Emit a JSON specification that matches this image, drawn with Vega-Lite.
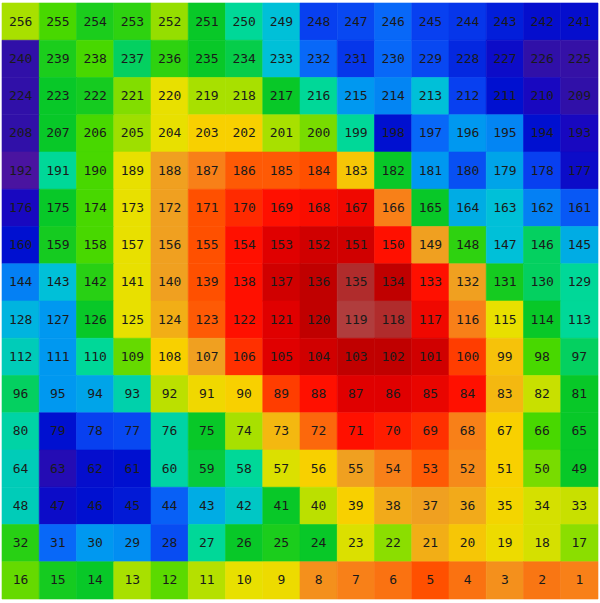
{
"$schema": "https://vega.github.io/schema/vega-lite/v6.json",
"width": 596, "height": 596,
"autosize": {"type": "none"},
"padding": {"left": 2, "top": 3, "right": 2, "bottom": 4},
"background": "white",
"data": {"values": [
{"n":256,"r":0,"c":0,"v":11},{"n":255,"r":0,"c":1,"v":10},{"n":254,"r":0,"c":2,"v":9.3},{"n":253,"r":0,"c":3,"v":9.6},{"n":252,"r":0,"c":4,"v":10.8},{"n":251,"r":0,"c":5,"v":9},{"n":250,"r":0,"c":6,"v":8},{"n":249,"r":0,"c":7,"v":7},{"n":248,"r":0,"c":8,"v":4},{"n":247,"r":0,"c":9,"v":4.2},{"n":246,"r":0,"c":10,"v":5},{"n":245,"r":0,"c":11,"v":4},{"n":244,"r":0,"c":12,"v":3.8},{"n":243,"r":0,"c":13,"v":3.3},{"n":242,"r":0,"c":14,"v":2.8},{"n":241,"r":0,"c":15,"v":2.8},
{"n":240,"r":1,"c":0,"v":1},{"n":239,"r":1,"c":1,"v":9.3},{"n":238,"r":1,"c":2,"v":10},{"n":237,"r":1,"c":3,"v":8.5},{"n":236,"r":1,"c":4,"v":9.6},{"n":235,"r":1,"c":5,"v":9},{"n":234,"r":1,"c":6,"v":8.7},{"n":233,"r":1,"c":7,"v":7},{"n":232,"r":1,"c":8,"v":5},{"n":231,"r":1,"c":9,"v":3.8},{"n":230,"r":1,"c":10,"v":5},{"n":229,"r":1,"c":11,"v":4.2},{"n":228,"r":1,"c":12,"v":3.5},{"n":227,"r":1,"c":13,"v":2.5},{"n":226,"r":1,"c":14,"v":1},{"n":225,"r":1,"c":15,"v":0.8},
{"n":224,"r":2,"c":0,"v":1},{"n":223,"r":2,"c":1,"v":9},{"n":222,"r":2,"c":2,"v":9.2},{"n":221,"r":2,"c":3,"v":10.6},{"n":220,"r":2,"c":4,"v":12},{"n":219,"r":2,"c":5,"v":11},{"n":218,"r":2,"c":6,"v":11},{"n":217,"r":2,"c":7,"v":9},{"n":216,"r":2,"c":8,"v":8},{"n":215,"r":2,"c":9,"v":6},{"n":214,"r":2,"c":10,"v":5.6},{"n":213,"r":2,"c":11,"v":7},{"n":212,"r":2,"c":12,"v":4},{"n":211,"r":2,"c":13,"v":3},{"n":210,"r":2,"c":14,"v":2},{"n":209,"r":2,"c":15,"v":1},
{"n":208,"r":3,"c":0,"v":1},{"n":207,"r":3,"c":1,"v":9},{"n":206,"r":3,"c":2,"v":10},{"n":205,"r":3,"c":3,"v":10.9},{"n":204,"r":3,"c":4,"v":12},{"n":203,"r":3,"c":5,"v":13},{"n":202,"r":3,"c":6,"v":13},{"n":201,"r":3,"c":7,"v":11},{"n":200,"r":3,"c":8,"v":10.5},{"n":199,"r":3,"c":9,"v":8},{"n":198,"r":3,"c":10,"v":3},{"n":197,"r":3,"c":11,"v":5},{"n":196,"r":3,"c":12,"v":6},{"n":195,"r":3,"c":13,"v":5.6},{"n":194,"r":3,"c":14,"v":3},{"n":193,"r":3,"c":15,"v":2},
{"n":192,"r":4,"c":0,"v":0},{"n":191,"r":4,"c":1,"v":8},{"n":190,"r":4,"c":2,"v":10},{"n":189,"r":4,"c":3,"v":12},{"n":188,"r":4,"c":4,"v":14},{"n":187,"r":4,"c":5,"v":15},{"n":186,"r":4,"c":6,"v":15.8},{"n":185,"r":4,"c":7,"v":15.8},{"n":184,"r":4,"c":8,"v":16},{"n":183,"r":4,"c":9,"v":13.2},{"n":182,"r":4,"c":10,"v":9},{"n":181,"r":4,"c":11,"v":6},{"n":180,"r":4,"c":12,"v":4.4},{"n":179,"r":4,"c":13,"v":6.3},{"n":178,"r":4,"c":14,"v":4},{"n":177,"r":4,"c":15,"v":2.5},
{"n":176,"r":5,"c":0,"v":2},{"n":175,"r":5,"c":1,"v":9},{"n":174,"r":5,"c":2,"v":10},{"n":173,"r":5,"c":3,"v":12},{"n":172,"r":5,"c":4,"v":14},{"n":171,"r":5,"c":5,"v":16},{"n":170,"r":5,"c":6,"v":16.6},{"n":169,"r":5,"c":7,"v":17},{"n":168,"r":5,"c":8,"v":17.2},{"n":167,"r":5,"c":9,"v":17.5},{"n":166,"r":5,"c":10,"v":15},{"n":165,"r":5,"c":11,"v":9},{"n":164,"r":5,"c":12,"v":6.5},{"n":163,"r":5,"c":13,"v":7},{"n":162,"r":5,"c":14,"v":5.5},{"n":161,"r":5,"c":15,"v":4.6},
{"n":160,"r":6,"c":0,"v":3},{"n":159,"r":6,"c":1,"v":9.2},{"n":158,"r":6,"c":2,"v":10},{"n":157,"r":6,"c":3,"v":12},{"n":156,"r":6,"c":4,"v":14},{"n":155,"r":6,"c":5,"v":16},{"n":154,"r":6,"c":6,"v":17},{"n":153,"r":6,"c":7,"v":18},{"n":152,"r":6,"c":8,"v":18.5},{"n":151,"r":6,"c":9,"v":18.5},{"n":150,"r":6,"c":10,"v":17},{"n":149,"r":6,"c":11,"v":14},{"n":148,"r":6,"c":12,"v":9.6},{"n":147,"r":6,"c":13,"v":7},{"n":146,"r":6,"c":14,"v":8.5},{"n":145,"r":6,"c":15,"v":6.5},
{"n":144,"r":7,"c":0,"v":5.5},{"n":143,"r":7,"c":1,"v":7},{"n":142,"r":7,"c":2,"v":9.5},{"n":141,"r":7,"c":3,"v":12},{"n":140,"r":7,"c":4,"v":14},{"n":139,"r":7,"c":5,"v":16},{"n":138,"r":7,"c":6,"v":17},{"n":137,"r":7,"c":7,"v":18.5},{"n":136,"r":7,"c":8,"v":19},{"n":135,"r":7,"c":9,"v":20},{"n":134,"r":7,"c":10,"v":19},{"n":133,"r":7,"c":11,"v":17},{"n":132,"r":7,"c":12,"v":14},{"n":131,"r":7,"c":13,"v":9.2},{"n":130,"r":7,"c":14,"v":8.5},{"n":129,"r":7,"c":15,"v":8},
{"n":128,"r":8,"c":0,"v":6.7},{"n":127,"r":8,"c":1,"v":6},{"n":126,"r":8,"c":2,"v":9},{"n":125,"r":8,"c":3,"v":12},{"n":124,"r":8,"c":4,"v":13.7},{"n":123,"r":8,"c":5,"v":15.8},{"n":122,"r":8,"c":6,"v":17},{"n":121,"r":8,"c":7,"v":18},{"n":120,"r":8,"c":8,"v":19},{"n":119,"r":8,"c":9,"v":20.6},{"n":118,"r":8,"c":10,"v":20},{"n":117,"r":8,"c":11,"v":17.5},{"n":116,"r":8,"c":12,"v":15},{"n":115,"r":8,"c":13,"v":12},{"n":114,"r":8,"c":14,"v":9},{"n":113,"r":8,"c":15,"v":8},
{"n":112,"r":9,"c":0,"v":7.5},{"n":111,"r":9,"c":1,"v":6},{"n":110,"r":9,"c":2,"v":8},{"n":109,"r":9,"c":3,"v":10.3},{"n":108,"r":9,"c":4,"v":13},{"n":107,"r":9,"c":5,"v":14},{"n":106,"r":9,"c":6,"v":16.5},{"n":105,"r":9,"c":7,"v":18},{"n":104,"r":9,"c":8,"v":18.5},{"n":103,"r":9,"c":9,"v":19},{"n":102,"r":9,"c":10,"v":19},{"n":101,"r":9,"c":11,"v":18.5},{"n":100,"r":9,"c":12,"v":16.3},{"n":99,"r":9,"c":13,"v":13.3},{"n":98,"r":9,"c":14,"v":10},{"n":97,"r":9,"c":15,"v":8.5},
{"n":96,"r":10,"c":0,"v":8.5},{"n":95,"r":10,"c":1,"v":6},{"n":94,"r":10,"c":2,"v":6.3},{"n":93,"r":10,"c":3,"v":7.7},{"n":92,"r":10,"c":4,"v":11.3},{"n":91,"r":10,"c":5,"v":12.5},{"n":90,"r":10,"c":6,"v":13},{"n":89,"r":10,"c":7,"v":16.3},{"n":88,"r":10,"c":8,"v":17},{"n":87,"r":10,"c":9,"v":18},{"n":86,"r":10,"c":10,"v":18},{"n":85,"r":10,"c":11,"v":17.7},{"n":84,"r":10,"c":12,"v":17},{"n":83,"r":10,"c":13,"v":13.5},{"n":82,"r":10,"c":14,"v":11.5},{"n":81,"r":10,"c":15,"v":9},
{"n":80,"r":11,"c":0,"v":7.8},{"n":79,"r":11,"c":1,"v":3},{"n":78,"r":11,"c":2,"v":4},{"n":77,"r":11,"c":3,"v":4.2},{"n":76,"r":11,"c":4,"v":7.8},{"n":75,"r":11,"c":5,"v":9},{"n":74,"r":11,"c":6,"v":11},{"n":73,"r":11,"c":7,"v":13.5},{"n":72,"r":11,"c":8,"v":15.5},{"n":71,"r":11,"c":9,"v":17},{"n":70,"r":11,"c":10,"v":16.8},{"n":69,"r":11,"c":11,"v":16.5},{"n":68,"r":11,"c":12,"v":15},{"n":67,"r":11,"c":13,"v":13},{"n":66,"r":11,"c":14,"v":10},{"n":65,"r":11,"c":15,"v":9},
{"n":64,"r":12,"c":0,"v":7.5},{"n":63,"r":12,"c":1,"v":1.5},{"n":62,"r":12,"c":2,"v":2.8},{"n":61,"r":12,"c":3,"v":3},{"n":60,"r":12,"c":4,"v":7.8},{"n":59,"r":12,"c":5,"v":8.8},{"n":58,"r":12,"c":6,"v":8},{"n":57,"r":12,"c":7,"v":11.8},{"n":56,"r":12,"c":8,"v":13},{"n":55,"r":12,"c":9,"v":14},{"n":54,"r":12,"c":10,"v":15},{"n":53,"r":12,"c":11,"v":15.8},{"n":52,"r":12,"c":12,"v":14.7},{"n":51,"r":12,"c":13,"v":13},{"n":50,"r":12,"c":14,"v":10.5},{"n":49,"r":12,"c":15,"v":9},
{"n":48,"r":13,"c":0,"v":7.5},{"n":47,"r":13,"c":1,"v":2.5},{"n":46,"r":13,"c":2,"v":3},{"n":45,"r":13,"c":3,"v":3.2},{"n":44,"r":13,"c":4,"v":4.8},{"n":43,"r":13,"c":5,"v":6.5},{"n":42,"r":13,"c":6,"v":7.3},{"n":41,"r":13,"c":7,"v":9},{"n":40,"r":13,"c":8,"v":11.3},{"n":39,"r":13,"c":9,"v":13},{"n":38,"r":13,"c":10,"v":13.8},{"n":37,"r":13,"c":11,"v":14},{"n":36,"r":13,"c":12,"v":13.8},{"n":35,"r":13,"c":13,"v":12.7},{"n":34,"r":13,"c":14,"v":11.7},{"n":33,"r":13,"c":15,"v":11.5},
{"n":32,"r":14,"c":0,"v":9.5},{"n":31,"r":14,"c":1,"v":5},{"n":30,"r":14,"c":2,"v":6},{"n":29,"r":14,"c":3,"v":5.8},{"n":28,"r":14,"c":4,"v":4.3},{"n":27,"r":14,"c":5,"v":8},{"n":26,"r":14,"c":6,"v":9},{"n":25,"r":14,"c":7,"v":9.3},{"n":24,"r":14,"c":8,"v":9},{"n":23,"r":14,"c":9,"v":11.8},{"n":22,"r":14,"c":10,"v":10.7},{"n":21,"r":14,"c":11,"v":13.7},{"n":20,"r":14,"c":12,"v":13.2},{"n":19,"r":14,"c":13,"v":12.3},{"n":18,"r":14,"c":14,"v":11.7},{"n":17,"r":14,"c":15,"v":10.7},
{"n":16,"r":15,"c":0,"v":10.3},{"n":15,"r":15,"c":1,"v":9.2},{"n":14,"r":15,"c":2,"v":9},{"n":13,"r":15,"c":3,"v":11},{"n":12,"r":15,"c":4,"v":10.2},{"n":11,"r":15,"c":5,"v":11.2},{"n":10,"r":15,"c":6,"v":12},{"n":9,"r":15,"c":7,"v":12.3},{"n":8,"r":15,"c":8,"v":14.5},{"n":7,"r":15,"c":9,"v":15},{"n":6,"r":15,"c":10,"v":15.3},{"n":5,"r":15,"c":11,"v":16},{"n":4,"r":15,"c":12,"v":15.3},{"n":3,"r":15,"c":13,"v":14.5},{"n":2,"r":15,"c":14,"v":15.2},{"n":1,"r":15,"c":15,"v":15}
]},
"encoding": {
  "x": {"field": "c", "type": "ordinal", "axis": null, "scale": {"paddingInner": 0, "paddingOuter": 0}},
  "y": {"field": "r", "type": "ordinal", "axis": null, "scale": {"paddingInner": 0, "paddingOuter": 0}}
},
"layer": [
  {"mark": {"type": "rect", "strokeWidth": 0.6},
   "encoding": {
     "color": {"field": "v", "type": "quantitative", "legend": null,
       "scale": {"interpolate": "rgb",
         "domain": [0,1,2,3,4,5,6,7,8,9,10,11,12,13,14,15,16,17,18,19,20,21],
         "range": ["#4a14a0","#3010a8","#1808c0","#0010d0","#0840f0","#0868f8","#0098f0","#00c0d8","#00d898","#08c828","#48d800","#a8e000","#e8e000","#f8d000","#f0a020","#f88018","#ff5000","#ff1000","#e00000","#c00000","#b02c2c","#b04848"]}},
     "stroke": {"field": "v", "type": "quantitative", "legend": null,
       "scale": {"interpolate": "rgb",
         "domain": [0,1,2,3,4,5,6,7,8,9,10,11,12,13,14,15,16,17,18,19,20,21],
         "range": ["#4a14a0","#3010a8","#1808c0","#0010d0","#0840f0","#0868f8","#0098f0","#00c0d8","#00d898","#08c828","#48d800","#a8e000","#e8e000","#f8d000","#f0a020","#f88018","#ff5000","#ff1000","#e00000","#c00000","#b02c2c","#b04848"]}}
   }},
  {"mark": {"type": "text", "font": "DejaVu Sans Mono", "fontSize": 13, "color": "#1a1a1a"},
   "encoding": {"text": {"field": "n", "type": "quantitative"}}}
],
"config": {"view": {"stroke": null}}
}
